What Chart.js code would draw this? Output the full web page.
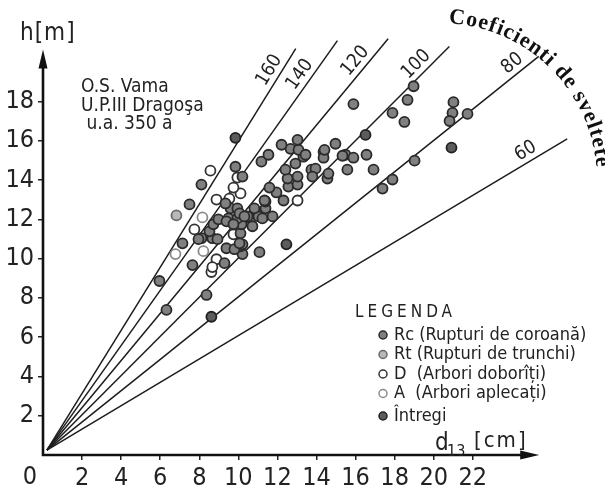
<!DOCTYPE html>
<html>
<head>
<meta charset="utf-8">
<script src="https://cdn.jsdelivr.net/npm/chart.js@4.4.0/dist/chart.umd.min.js"></script>
<style>
  html, body { margin: 0; padding: 0; background: #fff; }
  #wrap { width: 605px; height: 490px; }
</style>
</head>
<body>
<div id="wrap"><canvas id="grafic" width="605" height="490"></canvas></div>
<script>
// fontul ingust seamana cu scrisul tehnic din figura
const FONT = '"Liberation Sans Narrow", "DejaVu Sans Condensed", "Liberation Sans", sans-serif';

// puncte [d13 cm, h m]
const rupturiCoroana = [
  [5.96, 8.86], [6.32, 7.39], [7.65, 9.67], [8.37, 8.15], [9.29, 9.77], [10.21, 10.23],
  [11.08, 10.33], [9.39, 10.53], [10.11, 10.63], [7.14, 10.78], [8.11, 11.04], [8.67, 11.04],
  [8.93, 10.99], [10.11, 11.29], [8.52, 11.39], [8.72, 11.75], [10.16, 11.75], [9.49, 12.05],
  [9.95, 12.05], [8.98, 12.0], [10.62, 12.05], [10.47, 12.15], [11.03, 12.15], [11.75, 12.15],
  [10.72, 11.65], [9.60, 12.56], [9.95, 12.56], [10.82, 12.56], [11.39, 12.56], [7.50, 12.76],
  [9.34, 12.81], [11.39, 12.91], [12.31, 12.96], [11.95, 13.37], [11.59, 13.62], [12.56, 13.67],
  [13.03, 13.77], [8.11, 13.77], [12.52, 14.08], [13.03, 14.18], [12.41, 14.53], [13.74, 14.53],
  [13.95, 14.58], [9.85, 14.68], [12.92, 14.84], [11.18, 14.94], [11.54, 15.29], [13.33, 15.19],
  [12.67, 15.59], [13.08, 15.54], [12.21, 15.80], [13.03, 16.05], [14.56, 14.08], [14.61, 14.33],
  [14.36, 15.44], [14.36, 15.14], [14.97, 15.85], [15.48, 15.29], [15.58, 14.53], [15.89, 15.14],
  [16.56, 15.29], [16.92, 14.53], [15.89, 17.87], [17.89, 17.42], [18.66, 18.08], [18.97, 18.78],
  [18.50, 16.96], [21.01, 17.97], [20.96, 17.42], [20.81, 17.01], [21.73, 17.37], [19.02, 14.99],
  [17.89, 14.03], [17.38, 13.57], [10.21, 10.73], [13.79, 14.18], [9.39, 11.90], [9.75, 11.75],
  [9.80, 10.48], [10.06, 12.30], [11.34, 12.96], [11.23, 12.05], [13.44, 15.29], [15.33, 15.24],
  [14.41, 15.54], [10.31, 12.15], [10.06, 10.78], [7.96, 10.99], [10.21, 14.18]
];
const rupturiTrunchi = [[6.83, 12.20]];
const doboriti = [
  [8.62, 9.32], [8.88, 9.97], [8.67, 9.57], [9.75, 11.24], [7.75, 11.49], [13.03, 12.96],
  [8.88, 13.01], [9.54, 13.06], [10.11, 13.32], [9.75, 13.62], [9.95, 14.13], [8.57, 14.48]
];
const aplecati = [[6.78, 10.23], [8.21, 10.38], [8.16, 12.10]];
const intregi = [[8.62, 7.04], [12.46, 10.73], [9.85, 16.15], [16.51, 16.30], [20.91, 15.65]];

// coeficienti de sveltete (h/d*100) si inaltimea la care se opreste fiecare dreapta
const coeficienti = [60, 80, 100, 120, 140, 160];
const capatDreapta = [16.1, 20.3, 20.8, 21.2, 21.1, 20.7];

const xTicks = [2, 4, 6, 8, 10, 12, 14, 16, 18, 20, 22];
const yTicks = [2, 4, 6, 8, 10, 12, 14, 16, 18];

const titluArc = 'Coeficienti de sveltete';
const notaUnitate = ['O.S. Vama', 'U.P.III Dragoşa', ' u.a. 350 a'];

const toPts = arr => arr.map(([x, y]) => ({ x, y }));
const start = { x: 0.2, y: 0.25 };

const drepte = coeficienti.map((k, i) => ({
  type: 'line',
  label: String(k),
  isRay: true,
  data: [start, { x: capatDreapta[i] * 100 / k, y: capatDreapta[i] }],
  borderColor: '#1c1c1c',
  borderWidth: 1.5,
  pointRadius: 0,
  fill: false,
  order: 10,
}));

const serie = (label, arr, bg, border) => ({
  type: 'scatter',
  label,
  data: toPts(arr),
  backgroundColor: bg,
  borderColor: border,
  borderWidth: 1.8,
  pointRadius: 5,
  order: 0,
});

// etichetele de pe drepte: inaltimea pe dreapta unde stau
const etichetaH = [15.0, 19.5, 19.5, 19.7, 19.05, 19.3];

const desen = {
  id: 'desen',
  afterDatasetsDraw(chart) {
    const { ctx, scales: { x, y } } = chart;
    const x0 = x.getPixelForValue(0), y0 = y.getPixelForValue(0);
    const xTip = x.getPixelForValue(25.4), yTip = y.getPixelForValue(20.65);
    ctx.save();

    // axele cu sageti
    ctx.strokeStyle = '#111'; ctx.fillStyle = '#111'; ctx.lineWidth = 2.6;
    ctx.beginPath();
    ctx.moveTo(x0, y0 + 1.3); ctx.lineTo(x0, yTip + 14);
    ctx.moveTo(x0 - 1.3, y0); ctx.lineTo(xTip - 14, y0);
    ctx.stroke();
    ctx.beginPath();
    ctx.moveTo(x0, yTip); ctx.lineTo(x0 - 4.5, yTip + 19); ctx.lineTo(x0 + 4.5, yTip + 19);
    ctx.closePath(); ctx.fill();
    ctx.beginPath();
    ctx.moveTo(xTip, y0); ctx.lineTo(xTip - 19, y0 - 4.5); ctx.lineTo(xTip - 19, y0 + 4.5);
    ctx.closePath(); ctx.fill();

    ctx.fillStyle = '#222';
    ctx.textBaseline = 'alphabetic';
    ctx.textAlign = 'center';
    ctx.font = `25px ${FONT}`;
    ctx.fillText('0', x0 - 13, 484);

    // titluri axe
    ctx.textAlign = 'left';
    ctx.font = `24px ${FONT}`;
    ctx.letterSpacing = '1px';
    ctx.fillText('h[m]', 20, 40);
    ctx.letterSpacing = '0px';
    ctx.fillText('d', 435, 450);
    ctx.font = `16px ${FONT}`;
    ctx.fillText('13', 447, 456);
    ctx.font = `22px ${FONT}`;
    ctx.letterSpacing = '2px';
    ctx.fillText('[cm]', 474, 447);
    ctx.letterSpacing = '0px';

    // nota din stanga sus
    ctx.font = `19px ${FONT}`;
    notaUnitate.forEach((t, i) => ctx.fillText(t, 81, 92 + i * 18.5));

    // valorile coeficientilor pe drepte
    ctx.font = `19px ${FONT}`;
    ctx.textAlign = 'center'; ctx.textBaseline = 'middle';
    coeficienti.forEach((k, i) => {
      const h = etichetaH[i], d = h * 100 / k;
      const px = x.getPixelForValue(d), py = y.getPixelForValue(h);
      const th = Math.atan2(y0 - py, px - x0);
      const lx = px - 11 * Math.sin(th), ly = py - 11 * Math.cos(th);
      ctx.save();
      ctx.translate(lx, ly); ctx.rotate(-th);
      ctx.fillText(String(k), 0, 0);
      ctx.restore();
    });

    // legenda
    const items = chart.data.datasets.filter(d => !d.isRay);
    ctx.textAlign = 'left'; ctx.textBaseline = 'alphabetic';
    ctx.font = `17px ${FONT}`;
    ctx.letterSpacing = '4px';
    ctx.fillText('LEGENDA', 355, 317);
    ctx.letterSpacing = '0px';
    ctx.font = `18px ${FONT}`;
    ctx.textBaseline = 'middle';
    items.forEach((ds, i) => {
      const yy = 335 + i * 19.5 + (i === 4 ? 3 : 0);
      ctx.beginPath();
      ctx.arc(383, yy, 4, 0, Math.PI * 2);
      ctx.fillStyle = ds.backgroundColor; ctx.fill();
      ctx.lineWidth = 1.5; ctx.strokeStyle = ds.borderColor; ctx.stroke();
      ctx.fillStyle = '#222';
      ctx.fillText(ds.label, 394, yy);
    });

    // titlul curbat
    const cx = 440, cy = 180, r = 157;
    ctx.font = 'bold 22px "Liberation Serif", "DejaVu Serif", serif';
    ctx.fillStyle = '#111';
    ctx.textAlign = 'center'; ctx.textBaseline = 'alphabetic';
    const chars = [...titluArc];
    const w = chars.map(c => ctx.measureText(c).width);
    const a0 = -84 * Math.PI / 180, a1 = -6.5 * Math.PI / 180;
    const inner = w.reduce((s, v) => s + v, 0) - w[0] / 2 - w[w.length - 1] / 2;
    const gap = ((a1 - a0) * r - inner) / (chars.length - 1);
    let s = 0;
    chars.forEach((c, i) => {
      if (i > 0) s += w[i - 1] / 2 + gap + w[i] / 2;
      const a = a0 + s / r;
      ctx.save();
      ctx.translate(cx + r * Math.cos(a), cy + r * Math.sin(a));
      ctx.rotate(a + Math.PI / 2);
      ctx.fillText(c, 0, 0);
      ctx.restore();
    });

    ctx.restore();
  }
};

new Chart(document.getElementById('grafic'), {
  type: 'scatter',
  data: {
    datasets: [
      serie('Rc (Rupturi de coroană)', rupturiCoroana, '#808080', '#2a2a2a'),
      serie('Rt (Rupturi de trunchi)', rupturiTrunchi, '#b8b8b8', '#6a6a6a'),
      serie('D  (Arbori doborîți)', doboriti, '#ffffff', '#333333'),
      serie('A  (Arbori aplecați)', aplecati, '#ffffff', '#8a8a8a'),
      serie('Întregi', intregi, '#5c5c5c', '#222222'),
      ...drepte,
    ],
  },
  options: {
    responsive: false,
    animation: false,
    devicePixelRatio: 1,
    events: [],
    layout: { padding: { top: 23, right: 15, left: 0, bottom: 0 } },
    plugins: { legend: { display: false }, tooltip: { enabled: false } },
    scales: {
      x: {
        type: 'linear', min: 0, max: 28,
        afterFit: sc => { sc.height = 35; },
        border: { display: false },
        grid: { drawOnChartArea: false, tickLength: 5, color: '#222', lineWidth: 1.5 },
        ticks: {
          stepSize: 2, autoSkip: false, maxRotation: 0, padding: 3, color: '#222',
          font: { family: FONT, size: 25 },
          callback: v => xTicks.includes(v) ? String(v) : null,
        },
      },
      y: {
        type: 'linear', min: 0, max: 22,
        afterFit: sc => { sc.width = 43; },
        border: { display: false },
        grid: { drawOnChartArea: false, tickLength: 5, color: '#222', lineWidth: 1.5 },
        ticks: {
          stepSize: 2, autoSkip: false, padding: 4, color: '#222',
          font: { family: FONT, size: 25 },
          callback: v => yTicks.includes(v) ? String(v) : null,
        },
      },
    },
  },
  plugins: [desen],
});
</script>
</body>
</html>
